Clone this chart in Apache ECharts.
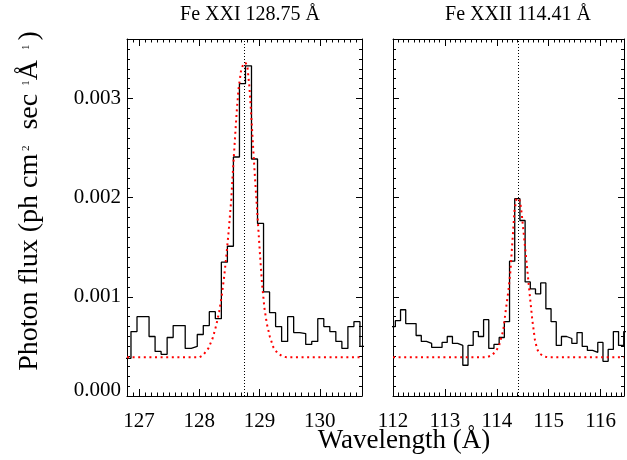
<!DOCTYPE html>
<html><head><meta charset="utf-8">
<script src="https://cdn.jsdelivr.net/npm/echarts@6/dist/echarts.min.js"></script>
<style>html,body{margin:0;padding:0;background:#fff}#c{width:627px;height:460px}</style>
</head><body><div id="c"></div>
<script>
// ---- data ----
const binWidth = 0.1;
const leftBinStarts = [126.766,126.866,126.966,127.066,127.166,127.266,127.366,127.466,127.566,127.666,
  127.766,127.866,127.966,128.066,128.166,128.266,128.366,128.466,128.566,128.666,
  128.766,128.866,128.966,129.066,129.166,129.266,129.366,129.466,129.566,129.666,
  129.766,129.866,129.966,130.066,130.166,130.266,130.366,130.466,130.566,130.666];
const leftFlux = [0.00038,0.00065,0.00080,0.00080,0.00060,0.00045,0.00042,0.00059,0.00071,0.00071,
  0.00048,0.00050,0.00062,0.00071,0.00085,0.00078,0.00135,0.00151,0.00241,0.00315,
  0.00333,0.00239,0.00174,0.00105,0.00084,0.00070,0.00055,0.00080,0.00064,0.00063,
  0.00052,0.00055,0.00078,0.00070,0.00065,0.00055,0.00048,0.00070,0.00075,0.00050];
const rightBinStarts = [111.945,112.045,112.145,112.245,112.345,112.445,112.545,112.645,112.745,112.845,
  112.945,113.045,113.145,113.245,113.345,113.445,113.545,113.645,113.745,113.845,
  113.945,114.045,114.145,114.245,114.345,114.445,114.545,114.645,114.745,114.845,
  114.945,115.045,115.145,115.245,115.345,115.445,115.545,115.645,115.745,115.845,
  115.945,116.045,116.145,116.245,116.345,116.445];
const rightFlux = [0.00070,0.00076,0.00087,0.00073,0.00073,0.00061,0.00055,0.00053,0.00049,0.00049,
  0.00054,0.00060,0.00053,0.00051,0.00031,0.00051,0.00065,0.00060,0.00077,0.00048,
  0.00052,0.00059,0.00075,0.00136,0.00199,0.00177,0.00115,0.00108,0.00103,0.00114,
  0.00088,0.00075,0.00051,0.00060,0.00058,0.00053,0.00064,0.00050,0.00046,0.00044,
  0.00054,0.00035,0.00047,0.00065,0.00051,0.00065];
const leftModelX = [126.80,127.50,128.00,128.06,128.15,128.22,128.28,128.33,128.37,128.41,128.45,128.49,
  128.53,128.56,128.59,128.62,128.65,128.69,128.73,128.77,128.80,128.83,128.86,128.89,128.92,128.95,
  128.98,129.01,129.04,129.08,129.12,129.17,129.23,129.30,129.38,129.45,130.00,130.70];
const leftModelY = [0.00039,0.00039,0.00039,0.00041,0.00048,0.00058,0.00071,0.00085,0.00100,0.00119,0.00142,0.00168,
  0.00198,0.00229,0.00258,0.00286,0.00309,0.00327,0.00335,0.00336,0.00331,0.00313,0.00285,0.00254,0.00224,0.00196,
  0.00168,0.00140,0.00114,0.00089,0.00073,0.00060,0.00049,0.00043,0.00040,0.00039,0.00039,0.00039];
const rightModelX = [112.00,113.00,113.80,113.907,113.99,114.04,114.08,114.124,114.174,114.225,114.264,114.289,
  114.315,114.340,114.378,114.403,114.429,114.454,114.479,114.531,114.582,114.632,114.683,114.735,114.78,
  114.822,114.90,114.988,115.80,116.45];
const rightModelY = [0.00039,0.00039,0.00039,0.00041,0.00046,0.00050,0.00058,0.00066,0.00087,0.00107,0.00127,0.00147,
  0.00167,0.00187,0.00199,0.00201,0.00199,0.00194,0.00184,0.00157,0.00130,0.00103,0.00077,0.00056,0.00047,
  0.00043,0.00040,0.00039,0.00039,0.00039];
const lineCenters = [128.75, 114.41];
const panelTitles = ['Fe XXI 128.75 Å', 'Fe XXII 114.41 Å'];
const xRanges = [[126.8, 130.7], [112, 116.45]];
const yRange = [0, 0.0036];
const yTickLabels = ['0.000','0.001','0.002','0.003'];
const xTitle = 'Wavelength (Å)';
const yTitle = 'Photon flux (ph cm{s| 2}{g| }sec{g2| }{s|1}Å{g3| }{s|1}{g4| })';

// ---- build ----
const SERIF = '"Liberation Serif", "DejaVu Serif", serif';
function stepData(starts, vals) {
  const d = starts.map((s, i) => [s, vals[i]]);
  d.push([starts[starts.length - 1] + binWidth, vals[vals.length - 1]]);
  return d;
}
function pairs(xs, ys) { return xs.map((x, i) => [x, ys[i]]); }

const tickStyle = {color: '#000', width: 1};
function xAxis(grid, pos, range, labels) {
  return {
    type: 'value', gridIndex: grid, position: pos, min: range[0], max: range[1], splitNumber: 4,
    axisLine: {show: true, onZero: false, lineStyle: tickStyle},
    axisTick: {show: true, inside: true, length: 7, lineStyle: tickStyle},
    minorTick: {show: true, splitNumber: 10, length: 3.5, lineStyle: tickStyle},
    splitLine: {show: false}, minorSplitLine: {show: false},
    axisLabel: {show: labels, margin: 15, color: '#000', fontFamily: SERIF, fontSize: 21,
      formatter: v => Math.abs(v - Math.round(v)) < 1e-6 ? String(Math.round(v)) : ''}
  };
}
function yAxis(grid, pos, labels) {
  return {
    type: 'value', gridIndex: grid, position: pos, min: yRange[0], max: yRange[1], interval: 0.001,
    axisLine: {show: true, onZero: false, lineStyle: tickStyle},
    axisTick: {show: true, inside: true, length: 6, lineStyle: tickStyle},
    minorTick: {show: true, splitNumber: 10, length: 3, lineStyle: tickStyle},
    splitLine: {show: false}, minorSplitLine: {show: false},
    axisLabel: {show: labels, margin: 6, color: '#000', fontFamily: SERIF, fontSize: 21,
      formatter: v => {
        const k = Math.round(v / 0.001);
        if (Math.abs(v - k * 0.001) > 1e-9 || k >= yTickLabels.length) return '';
        return k === 0 ? '{z|' + yTickLabels[0] + '}' : yTickLabels[k];
      },
      rich: {z: {fontFamily: SERIF, fontSize: 21, color: '#000', padding: [0, 0, 12, 0]}}
    }
  };
}
function histSeries(ax, data, center) {
  return {
    type: 'line', xAxisIndex: ax, yAxisIndex: ax, data: data, step: 'end', symbol: 'none',
    lineStyle: {color: '#000', width: 1.3}, z: 2,
    markLine: {silent: true, symbol: ['none', 'none'], label: {show: false},
      lineStyle: {color: '#000', type: [1, 2], width: 1}, emphasis: {disabled: true},
      data: [{xAxis: center}]}
  };
}
function modelSeries(ax, data) {
  return {
    type: 'line', xAxisIndex: ax, yAxisIndex: ax, data: data, symbol: 'none', z: 3,
    lineStyle: {color: '#ff0000', width: 2, type: [2, 3.6]}
  };
}

const chart = echarts.init(document.getElementById('c'), null, {renderer: 'canvas'});
chart.setOption({
  animation: false,
  backgroundColor: '#fff',
  grid: [
    {left: 127, top: 39, width: 235, height: 357},
    {left: 393, top: 39, width: 233.5, height: 357}
  ],
  xAxis: [
    xAxis(0, 'bottom', xRanges[0], true),
    xAxis(1, 'bottom', xRanges[1], true),
    xAxis(0, 'top', xRanges[0], false),
    xAxis(1, 'top', xRanges[1], false)
  ],
  yAxis: [
    yAxis(0, 'left', true),
    yAxis(1, 'left', false),
    yAxis(0, 'right', false),
    yAxis(1, 'right', false)
  ],
  series: [
    histSeries(0, stepData(leftBinStarts, leftFlux), lineCenters[0]),
    modelSeries(0, pairs(leftModelX, leftModelY)),
    histSeries(1, stepData(rightBinStarts, rightFlux), lineCenters[1]),
    modelSeries(1, pairs(rightModelX, rightModelY))
  ],
  graphic: [
    {type: 'text', x: 250, y: 15, style: {text: panelTitles[0], align: 'center', verticalAlign: 'middle',
      fontFamily: SERIF, fontSize: 20, fill: '#000'}},
    {type: 'text', x: 518, y: 15, style: {text: panelTitles[1], align: 'center', verticalAlign: 'middle',
      fontFamily: SERIF, fontSize: 20, fill: '#000'}},
    {type: 'text', x: 404, y: 441, style: {text: xTitle, align: 'center', verticalAlign: 'middle',
      fontFamily: SERIF, fontSize: 27, fill: '#000'}},
    {type: 'text', x: 30, y: 201, rotation: Math.PI / 2,
      style: {text: yTitle, align: 'center', verticalAlign: 'middle',
        fontFamily: SERIF, fontSize: 28, fill: '#000', lineHeight: 31,
        rich: {
          s: {fontFamily: SERIF, fontSize: 11, fill: '#000', lineHeight: 11, padding: [0, 0, 8, 0]},
          g: {fontFamily: SERIF, fontSize: 28, width: 16},
          g2: {fontFamily: SERIF, fontSize: 28, width: 8},
          g3: {fontFamily: SERIF, fontSize: 28, width: 10},
          g4: {fontFamily: SERIF, fontSize: 28, width: 4}
        }}}
  ]
});
</script></body></html>
